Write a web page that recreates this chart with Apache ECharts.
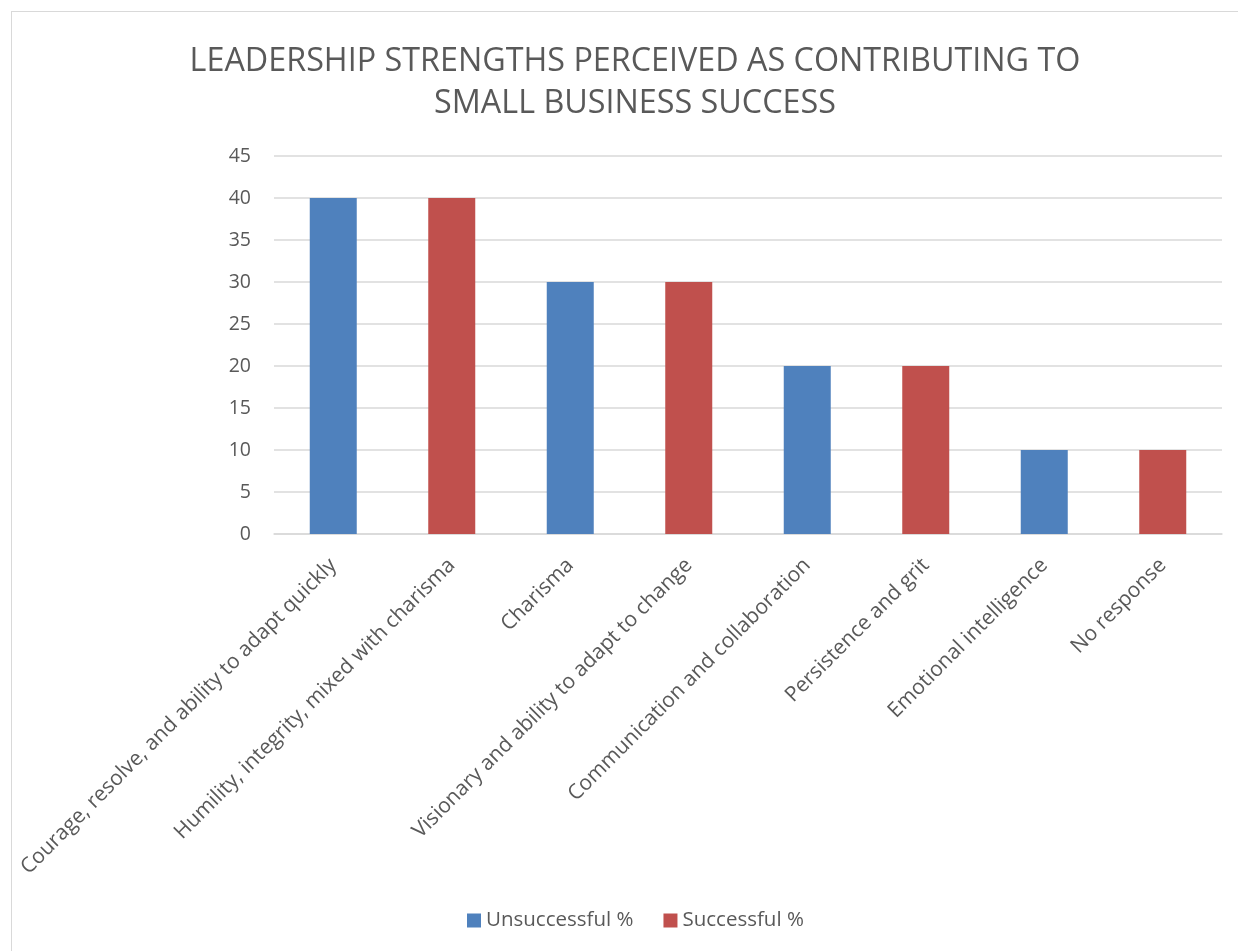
<!DOCTYPE html>
<html>
<head>
<meta charset="utf-8">
<script src="https://cdn.jsdelivr.net/npm/echarts@6/dist/echarts.min.js"></script>
<style>
  html, body { margin: 0; padding: 0; background: #fff; overflow: hidden; }
  #frame { position: absolute; left: 11px; top: 11px; width: 1300px; height: 1000px; border: 1px solid #d9d9d9; box-sizing: border-box; }
  #chart { position: absolute; left: 0; top: 0; width: 1238px; height: 951px; }
</style>
</head>
<body>
<div id="frame"></div>
<div id="chart"></div>
<script>
// Leadership strengths survey: share of respondents (%) by group
const categories = [
  'Courage, resolve, and ability to adapt quickly',
  'Humility, integrity, mixed with charisma',
  'Charisma',
  'Visionary and ability to adapt to change',
  'Communication and collaboration',
  'Persistence and grit',
  'Emotional intelligence',
  'No response'
];
const unsuccessful = [40, '-', 30, '-', 20, '-', 10, '-'];
const successful = ['-', 40, '-', 30, '-', 20, '-', 10];
const yTicks = { min: 0, max: 45, interval: 5 };

const textColor = '#595959';
const fontFamily = '"Open Sans", "Liberation Sans", sans-serif';

const chart = echarts.init(document.getElementById('chart'), null, { renderer: 'canvas' });
chart.setOption({
  backgroundColor: 'transparent',
  animation: false,
  textStyle: { fontFamily: fontFamily, color: textColor },
  title: {
    text: 'LEADERSHIP STRENGTHS PERCEIVED AS CONTRIBUTING TO\nSMALL BUSINESS SUCCESS',
    left: 630,
    top: 36,
    textAlign: 'center',
    textStyle: { fontFamily: fontFamily, fontSize: 32.3, fontWeight: 'normal', color: textColor, lineHeight: 42 }
  },
  legend: {
    bottom: 15,
    left: 462,
    itemWidth: 14,
    itemHeight: 14,
    itemGap: 30,
    icon: 'rect',
    textStyle: { fontSize: 20.5, color: textColor, fontFamily: fontFamily },
    data: ['Unsuccessful %', 'Successful %']
  },
  grid: { left: 274, right: 16, top: 156, bottom: 417, containLabel: false },
  xAxis: {
    type: 'category',
    data: categories,
    axisLine: { lineStyle: { color: '#d9d9d9', width: 1.5 } },
    axisTick: { show: false },
    axisLabel: { rotate: 45, interval: 0, margin: 28, fontSize: 21, color: textColor, fontFamily: fontFamily }
  },
  yAxis: {
    type: 'value',
    min: yTicks.min,
    max: yTicks.max,
    interval: yTicks.interval,
    axisLine: { show: false },
    axisTick: { show: false },
    splitLine: { lineStyle: { color: '#d9d9d9', width: 1.5 } },
    axisLabel: { margin: 23, fontSize: 19.5, color: textColor, fontFamily: fontFamily }
  },
  series: [
    { name: 'Unsuccessful %', type: 'bar', data: unsuccessful, barWidth: 47, barGap: '-100%', itemStyle: { color: '#4f81bd' } },
    { name: 'Successful %', type: 'bar', data: successful, barWidth: 47, barGap: '-100%', itemStyle: { color: '#c0504d' } }
  ]
});
</script>
</body>
</html>
